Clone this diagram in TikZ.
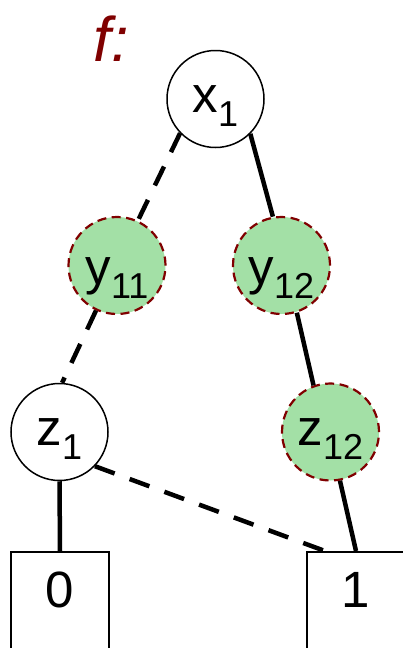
\documentclass[tikz,border=0pt]{standalone}
\usepackage{fontspec}
\setmainfont{Liberation Sans}
\definecolor{dred}{HTML}{800000}
\definecolor{lgreen}{HTML}{A3E0A6}
\newcommand\subsc[1]{\raisebox{-14pt}{\fontsize{36}{36}\selectfont #1}}
\tikzset{
  vnode/.style={circle,draw=black,line width=1.5pt,fill=white,minimum size=97pt,inner sep=0pt,
    font=\fontsize{51}{51}\selectfont,text height=34pt,text depth=8pt},
  gnode/.style={vnode,draw=dred,fill=lgreen,line width=2.2pt,dash pattern=on 9pt off 5.5pt},
  ylow/.style={text height=38pt,text depth=0pt},
  leaf/.style={rectangle,draw=black,line width=1.5pt,minimum width=98pt,inner sep=0pt,
    anchor=north,font=\fontsize{51}{51}\selectfont,text height=56pt,text depth=100pt},
  edge/.style={line width=4.5pt,black},
  dedge/.style={edge,dash pattern=on 21pt off 16pt}
}
\begin{document}
\begin{tikzpicture}[x=1pt,y=-1pt]
\useasboundingbox (0,0) rectangle (403,648);
\node[anchor=base west,text=dred,font=\fontsize{63}{63}\selectfont\itshape] (f) at (90,61.7) {f:};
\node[vnode] (x1) at (215.5,99) {x\subsc{1}};
\node[gnode,ylow] (y11) at (117,265.5) {y\subsc{11}};
\node[gnode,ylow] (y12) at (281.5,265.5) {y\subsc{12}};
\node[vnode] (z1) at (59.5,432) {z\subsc{1}};
\node[gnode] (z12) at (330.5,432) {z\subsc{12}};
\node[leaf] (b0) at (60,551) {0};
\node[leaf] (b1) at (356,551) {1};
\draw[dedge] (x1.224) -- (y11.65);
\draw[edge] (x1.315) -- (y12.100);
\draw[dedge] (y11.245) -- (z1.87);
\draw[edge] (y12.288) -- (z12.110);
\draw[edge] (z12.281) -- (b1.north);
\draw[dedge] (z1.316) -- ([xshift=-31pt]b1.north);
\draw[edge] (z1.south) -- (b0.north);
\end{tikzpicture}
\end{document}
